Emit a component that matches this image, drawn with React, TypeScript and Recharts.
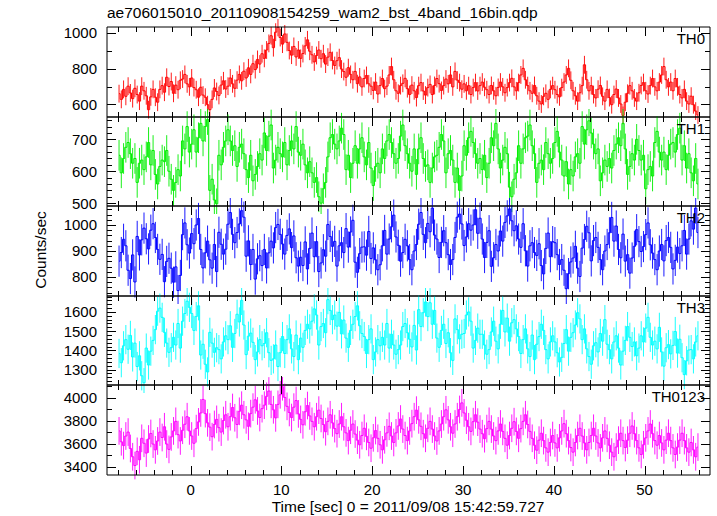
import React from "react";
import { LineChart, Line, XAxis, YAxis, ErrorBar } from "recharts";

// light curve, 0.25 s bins from -8 s to 56 s (16 bins per row = 4 s)
const BIN_START = -7.875;
const BIN_WIDTH = 0.25;

const TH0 = [
  660, 628, 684, 645, 702, 664, 632, 690, 655, 618, 702, 676, 648, 570, 642, 684,
  640, 612, 684, 705, 668, 752, 700, 728, 662, 708, 682, 735, 742, 768, 715, 698,
  748, 694, 682, 640, 696, 652, 640, 598, 570, 628, 692, 672, 650, 708, 732, 686,
  702, 748, 715, 690, 736, 768, 732, 786, 748, 805, 768, 828, 795, 852, 826, 884,
  858, 905, 942, 985, 918, 1005, 1032, 975, 938, 995, 948, 902, 876, 925, 866, 905,
  858, 885, 928, 962, 898, 878, 838, 874, 905, 856, 884, 826, 865, 892, 846, 818,
  845, 862, 798, 784, 752, 806, 768, 738, 785, 716, 754, 698, 745, 762, 715, 702,
  678, 725, 658, 706, 745, 688, 702, 765, 812, 738, 676, 662, 705, 718, 746, 688,
  655, 708, 676, 638, 705, 722, 675, 652, 694, 712, 655, 706, 745, 716, 678, 705,
  742, 715, 765, 698, 785, 736, 722, 685, 715, 676, 705, 655, 694, 722, 675, 705,
  725, 696, 682, 655, 706, 676, 648, 695, 725, 698, 665, 694, 722, 746, 698, 676,
  722, 765, 802, 738, 705, 676, 662, 706, 648, 618, 602, 645, 662, 628, 684, 705,
  682, 655, 642, 694, 725, 765, 802, 735, 676, 648, 618, 665, 705, 822, 738, 676,
  705, 655, 636, 685, 706, 645, 618, 684, 638, 598, 655, 686, 636, 602, 538, 612,
  662, 705, 676, 636, 618, 665, 706, 722, 676, 658, 705, 745, 698, 676, 725, 765,
  812, 738, 698, 725, 676, 745, 698, 655, 636, 684, 618, 602, 646, 598, 562, 540,
];

const TH1 = [
  650, 595, 640, 675, 690, 655, 625, 640, 565, 625, 635, 605, 645, 690, 620, 665,
  590, 560, 615, 635, 630, 665, 600, 575, 540, 565, 605, 585, 695, 670, 740, 660,
  685, 730, 660, 705, 750, 695, 740, 762, 540, 575, 510, 498, 650, 620, 675, 695,
  730, 695, 665, 680, 615, 675, 685, 655, 605, 580, 650, 570, 590, 615, 655, 635,
  720, 665, 710, 745, 610, 635, 675, 655, 645, 690, 620, 665, 695, 670, 740, 660,
  650, 685, 620, 595, 630, 595, 565, 580, 520, 500, 545, 565, 645, 705, 715, 685,
  670, 695, 735, 715, 605, 650, 580, 625, 680, 625, 670, 705, 645, 620, 690, 610,
  555, 615, 625, 595, 670, 640, 695, 715, 690, 655, 625, 640, 710, 745, 680, 655,
  625, 600, 670, 590, 670, 705, 640, 615, 620, 565, 610, 645, 650, 675, 715, 695,
  595, 655, 665, 635, 565, 610, 540, 585, 680, 650, 705, 725, 690, 655, 625, 640,
  605, 650, 580, 625, 705, 680, 750, 670, 610, 635, 675, 655, 550, 520, 575, 595,
  680, 625, 670, 705, 710, 745, 680, 655, 565, 625, 635, 605, 690, 655, 625, 640,
  690, 725, 660, 635, 585, 630, 560, 605, 585, 645, 655, 625, 740, 685, 730, 758,
  720, 685, 655, 670, 570, 595, 635, 615, 640, 610, 665, 685, 705, 680, 750, 670,
  590, 615, 655, 635, 700, 665, 635, 650, 545, 605, 615, 585, 690, 725, 660, 635,
  660, 605, 650, 685, 690, 660, 715, 735, 635, 680, 610, 655, 595, 570, 640, 560,
];

const TH2 = [
  861, 894, 945, 920, 826, 794, 885, 781, 956, 885, 943, 988, 947, 908, 980, 1005,
  952, 906, 868, 887, 782, 860, 872, 834, 780, 839, 748, 806, 963, 1008, 924, 892,
  967, 928, 1000, 1025, 906, 835, 893, 938, 866, 834, 925, 821, 972, 926, 888, 907,
  1003, 1048, 964, 932, 971, 1004, 1055, 1030, 880, 939, 848, 906, 792, 870, 882, 844,
  906, 835, 893, 938, 912, 990, 1002, 964, 927, 888, 960, 985, 913, 958, 874, 842,
  876, 844, 935, 831, 910, 969, 878, 936, 821, 854, 905, 880, 1002, 956, 918, 937,
  842, 920, 932, 894, 986, 915, 973, 1018, 857, 818, 890, 915, 916, 884, 975, 871,
  912, 866, 828, 847, 920, 979, 888, 946, 993, 1038, 954, 922, 861, 894, 945, 920,
  867, 828, 900, 925, 1003, 1048, 964, 932, 1006, 974, 1065, 961, 946, 875, 933, 978,
  932, 886, 848, 867, 952, 1030, 1042, 1004, 921, 954, 1005, 980, 1000, 1059, 968, 1026,
  946, 875, 933, 978, 841, 874, 925, 900, 977, 938, 1010, 1035, 1062, 1016, 978, 997,
  946, 914, 1005, 901, 842, 920, 932, 894, 883, 928, 844, 812, 910, 969, 878, 936,
  932, 886, 848, 867, 826, 755, 813, 858, 873, 918, 834, 802, 911, 944, 995, 970,
  862, 940, 952, 914, 867, 828, 900, 925, 970, 1029, 938, 996, 906, 874, 965, 861,
  886, 815, 873, 918, 982, 936, 898, 917, 963, 1008, 924, 892, 867, 828, 900, 925,
  862, 940, 952, 914, 831, 864, 915, 890, 920, 979, 888, 946, 1016, 984, 1065, 971,
];

const TH3 = [
  1384, 1336, 1424, 1456, 1406, 1478, 1366, 1438, 1316, 1372, 1268, 1232, 1412, 1324, 1396, 1452,
  1508, 1604, 1620, 1572, 1494, 1438, 1390, 1414, 1468, 1428, 1540, 1412, 1552, 1592, 1656, 1624,
  1592, 1504, 1576, 1632, 1376, 1432, 1328, 1288, 1494, 1438, 1390, 1414, 1404, 1356, 1444, 1476,
  1456, 1528, 1416, 1488, 1588, 1548, 1660, 1532, 1378, 1474, 1490, 1442, 1352, 1392, 1456, 1424,
  1436, 1492, 1388, 1348, 1356, 1428, 1316, 1388, 1472, 1384, 1456, 1512, 1408, 1368, 1480, 1352,
  1464, 1416, 1504, 1536, 1512, 1552, 1616, 1584, 1428, 1524, 1540, 1492, 1664, 1608, 1560, 1584,
  1526, 1598, 1486, 1558, 1464, 1416, 1504, 1536, 1576, 1632, 1528, 1488, 1472, 1384, 1456, 1512,
  1352, 1392, 1456, 1424, 1468, 1428, 1540, 1412, 1484, 1428, 1380, 1404, 1428, 1524, 1540, 1492,
  1458, 1418, 1530, 1402, 1612, 1524, 1596, 1652, 1576, 1648, 1536, 1608, 1464, 1416, 1504, 1536,
  1436, 1492, 1388, 1348, 1564, 1508, 1460, 1484, 1488, 1584, 1600, 1552, 1412, 1452, 1516, 1484,
  1484, 1428, 1380, 1404, 1496, 1552, 1448, 1408, 1536, 1608, 1496, 1568, 1448, 1544, 1560, 1512,
  1472, 1384, 1456, 1512, 1408, 1368, 1480, 1352, 1432, 1472, 1536, 1504, 1404, 1356, 1444, 1476,
  1444, 1388, 1340, 1364, 1436, 1508, 1396, 1468, 1492, 1532, 1596, 1564, 1456, 1512, 1408, 1368,
  1328, 1424, 1440, 1392, 1488, 1448, 1560, 1432, 1404, 1356, 1444, 1476, 1412, 1324, 1396, 1452,
  1524, 1468, 1420, 1444, 1372, 1412, 1476, 1444, 1516, 1572, 1468, 1428, 1448, 1408, 1520, 1392,
  1318, 1414, 1430, 1382, 1426, 1498, 1386, 1458, 1362, 1274, 1346, 1402, 1404, 1356, 1444, 1476,
];

const TH0123 = [
  3712, 3618, 3585, 3668, 3702, 3560, 3488, 3412, 3535, 3462, 3648, 3605, 3520, 3642, 3690, 3598,
  3548, 3625, 3702, 3655, 3748, 3598, 3552, 3660, 3712, 3795, 3680, 3625, 3718, 3770, 3835, 3712,
  3668, 3605, 3732, 3790, 3868, 3985, 3862, 3782, 3745, 3662, 3768, 3812, 3740, 3702, 3802, 3852,
  3748, 3835, 3915, 3826, 3768, 3882, 3935, 3852, 3808, 3752, 3862, 3918, 3982, 3885, 3828, 3905,
  3935, 4012, 4058, 3942, 3895, 3825, 3942, 4025, 4095, 4002, 3925, 3872, 3828, 3918, 3975, 3860,
  3812, 3765, 3878, 3932, 3842, 3795, 3748, 3835, 3892, 3820, 3768, 3705, 3795, 3852, 3782, 3732,
  3688, 3772, 3835, 3748, 3695, 3628, 3718, 3772, 3685, 3632, 3592, 3672, 3735, 3665, 3612, 3562,
  3652, 3715, 3648, 3592, 3548, 3635, 3695, 3752, 3668, 3612, 3695, 3755, 3815, 3728, 3672, 3628,
  3712, 3775, 3835, 3892, 3808, 3752, 3688, 3648, 3735, 3795, 3728, 3668, 3625, 3712, 3772, 3835,
  3895, 3808, 3748, 3692, 3772, 3835, 3898, 3955, 3868, 3805, 3748, 3708, 3792, 3852, 3788, 3728,
  3688, 3645, 3732, 3795, 3728, 3668, 3628, 3712, 3772, 3708, 3648, 3588, 3672, 3735, 3792, 3708,
  3648, 3732, 3795, 3852, 3768, 3708, 3648, 3588, 3545, 3632, 3692, 3628, 3565, 3528, 3612, 3672,
  3608, 3565, 3652, 3712, 3775, 3688, 3628, 3568, 3528, 3612, 3672, 3735, 3668, 3608, 3548, 3612,
  3672, 3735, 3668, 3608, 3565, 3652, 3712, 3648, 3588, 3528, 3488, 3572, 3632, 3692, 3628, 3568,
  3632, 3692, 3755, 3688, 3628, 3565, 3508, 3592, 3652, 3712, 3772, 3688, 3628, 3588, 3672, 3608,
  3548, 3632, 3692, 3628, 3565, 3508, 3572, 3632, 3692, 3628, 3565, 3528, 3612, 3548, 3488, 3572,
];

// 1-sigma errors per band (counts/sec)
const ERR_TH0 = 50;
const ERR_TH1 = 48;
const ERR_TH2 = 60;
const ERR_TH3 = 76;
const ERR_TH0123 = 120;

const X_TICKS = [-8, -6, -4, -2, 0, 2, 4, 6, 8, 10, 12, 14, 16, 18, 20, 22, 24, 26, 28, 30, 32, 34, 36, 38, 40, 42, 44, 46, 48, 50, 52, 54, 56];
const X_DOMAIN = [-9.2, 57.2];

const rows = TH0.map((v, i) => ({
  t: BIN_START + i * BIN_WIDTH,
  th0: v,
  th1: TH1[i],
  th2: TH2[i],
  th3: TH3[i],
  th0123: TH0123[i],
  e0: ERR_TH0,
  e1: ERR_TH1,
  e2: ERR_TH2,
  e3: ERR_TH3,
  e4: ERR_TH0123,
}));

const panels = [
  { key: "th0", err: "e0", label: "TH0", color: "#ff0000", domain: [529, 1034], major: 200, ticks: [600, 700, 800, 900, 1000] },
  { key: "th1", err: "e1", label: "TH1", color: "#00ee00", domain: [491, 770], major: 100,
    ticks: [500, 520, 540, 560, 580, 600, 620, 640, 660, 680, 700, 720, 740, 760] },
  { key: "th2", err: "e2", label: "TH2", color: "#0000ff", domain: [727, 1073], major: 100,
    ticks: [740, 760, 780, 800, 820, 840, 860, 880, 900, 920, 940, 960, 980, 1000, 1020, 1040, 1060] },
  { key: "th3", err: "e3", label: "TH3", color: "#00ffff", domain: [1220, 1683], major: 100,
    ticks: [1240, 1260, 1280, 1300, 1320, 1340, 1360, 1380, 1400, 1420, 1440, 1460, 1480, 1500, 1520, 1540, 1560, 1580, 1600, 1620, 1640, 1660, 1680] },
  { key: "th0123", err: "e4", label: "TH0123", color: "#ff00ff", domain: [3330, 4110], major: 200, ticks: [3400, 3500, 3600, 3700, 3800, 3900, 4000, 4100] },
];

const PLOT_TOP = [27, 117, 206, 296, 385];
const PLOT_H = [90, 89, 90, 89, 90];
const PAD = 8;
const FONT = "'Liberation Sans', Arial, Helvetica, sans-serif";

function YTick(props: any) {
  const { x, y, payload, side, major } = props;
  const v = payload.value;
  const isMajor = v % major === 0;
  const len = isMajor ? 9 : 5;
  const yy = Math.round(y) + 0.5;
  const dir = side === "left" ? 1 : -1;
  return (
    <g>
      <line x1={x} y1={yy} x2={x + dir * len} y2={yy} stroke="#000" strokeWidth={1} />
      {side === "left" && isMajor ? (
        <text x={x - 10} y={y} dy="0.36em" textAnchor="end" fontSize={15} fontFamily={FONT} fill="#000">{v}</text>
      ) : null}
    </g>
  );
}

function XTick(props: any) {
  const { x, y, payload, side, showLabel } = props;
  const v = payload.value;
  const isMajor = v % 10 === 0;
  const len = isMajor ? 9 : 5;
  const xx = Math.round(x) + 0.5;
  const dir = side === "top" ? 1 : -1;
  return (
    <g>
      <line x1={xx} y1={y} x2={xx} y2={y + dir * len} stroke="#000" strokeWidth={1} />
      {showLabel && isMajor ? (
        <text x={x} y={y + 20} textAnchor="middle" fontSize={15} fontFamily={FONT} fill="#000">{v}</text>
      ) : null}
    </g>
  );
}

function Panel(props: { idx: number }) {
  const p = panels[props.idx];
  const last = props.idx === panels.length - 1;
  const top = PLOT_TOP[props.idx] - PAD;
  const bottomSpace = last ? 516 - (PLOT_TOP[props.idx] + PLOT_H[props.idx]) : PAD;
  const h = PLOT_H[props.idx] + PAD + bottomSpace;
  return (
    <div style={{ position: "absolute", left: 0, top, width: 717, height: h }}>
      <LineChart width={717} height={h} data={rows} margin={{ top: PAD - 1, right: 6, bottom: 0, left: 0 }}>
        <XAxis xAxisId="top" orientation="top" dataKey="t" type="number" domain={X_DOMAIN} allowDataOverflow
          ticks={X_TICKS} interval={0} height={1} tickSize={0} tickMargin={0} tickLine={false}
          axisLine={{ stroke: "#000" }} tick={(tp: any) => <XTick {...tp} side="top" />} />
        <XAxis xAxisId="bot" orientation="bottom" dataKey="t" type="number" domain={X_DOMAIN} allowDataOverflow
          ticks={X_TICKS} interval={0} height={bottomSpace} tickSize={0} tickMargin={0} tickLine={false}
          axisLine={{ stroke: "#000" }} tick={(tp: any) => <XTick {...tp} side="bottom" showLabel={last} />} />
        <YAxis yAxisId="left" orientation="left" type="number" domain={p.domain} allowDataOverflow
          ticks={p.ticks} interval={0} width={107} tickSize={0} tickMargin={0} tickLine={false}
          axisLine={{ stroke: "#000" }} tick={(tp: any) => <YTick {...tp} side="left" major={p.major} />} />
        <YAxis yAxisId="right" orientation="right" type="number" domain={p.domain} allowDataOverflow
          ticks={p.ticks} interval={0} width={1} tickSize={0} tickMargin={0} tickLine={false}
          axisLine={{ stroke: "#000" }} tick={(tp: any) => <YTick {...tp} side="right" major={p.major} />} />
        <Line xAxisId="bot" yAxisId="left" type="step" dataKey={p.key} stroke={p.color} strokeWidth={1}
          dot={false} activeDot={false} isAnimationActive={false}>
          <ErrorBar dataKey={p.err} direction="y" width={0} stroke={p.color} strokeOpacity={0.9} strokeWidth={1} isAnimationActive={false} />
        </Line>
      </LineChart>
      <div style={{ position: "absolute", right: 12, top: PAD + 4, fontSize: 15, fontFamily: FONT, lineHeight: "16px" }}>{p.label}</div>
    </div>
  );
}

export default function App() {
  return (
    <div style={{ position: "absolute", left: 0, top: 0, width: 717, height: 516, background: "#fff", fontFamily: FONT, color: "#000" }}>
      <div style={{ position: "absolute", left: 107, top: 5, fontSize: 15.5, lineHeight: "16px", whiteSpace: "nowrap" }}>
        ae706015010_20110908154259_wam2_bst_4band_16bin.qdp
      </div>
      {panels.map((_, i) => <Panel key={i} idx={i} />)}
      <div style={{ position: "absolute", left: 41, top: 250, fontSize: 15.5, lineHeight: "16px", whiteSpace: "nowrap",
        transform: "translate(-50%, -50%) rotate(-90deg)" }}>Counts/sec</div>
      <div style={{ position: "absolute", left: 408, top: 499, fontSize: 15.5, lineHeight: "16px", whiteSpace: "nowrap",
        transform: "translateX(-50%)" }}>Time [sec] 0 = 2011/09/08 15:42:59.727</div>
    </div>
  );
}
